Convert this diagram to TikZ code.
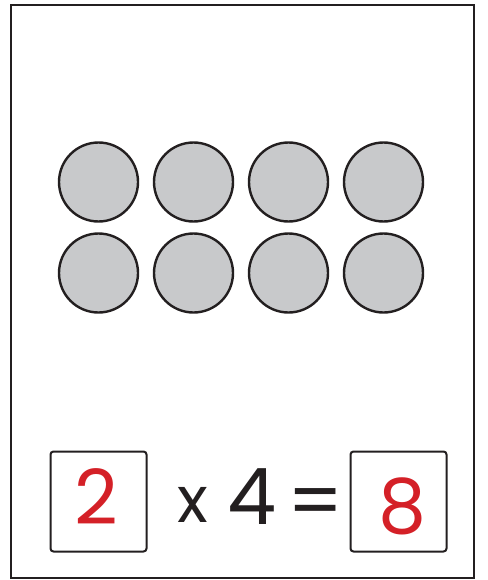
\documentclass[tikz,border=0pt]{standalone}
\usepackage{fontspec}
\setmainfont{Poppins}
\definecolor{dotgray}{HTML}{C8C9CB}
\definecolor{penred}{HTML}{D42027}
\definecolor{ink}{HTML}{231F20}
\begin{document}
\begin{tikzpicture}[x=1pt,y=-1pt,
  dot/.style={circle,draw=ink,line width=2.4pt,fill=dotgray,minimum size=79pt,inner sep=0pt},
  answerbox/.style={draw=ink,line width=2pt,rounded corners=3pt,minimum width=96pt,minimum height=100pt,inner sep=0pt},
  red digit/.style={text=penred,font=\fontsize{76}{76}\selectfont},
  sym/.style={text=ink,font=\fontsize{78}{78}\selectfont}]
\useasboundingbox (0,0) rectangle (487,580);
\node[draw=ink,line width=2pt,minimum width=463pt,minimum height=572pt,inner sep=0pt] (frame) at (242.5,291.5) {};
\foreach \c [count=\i] in {98.5,193.5,288.5,383.5}{
  \node[dot] (t\i) at (\c,182) {};
  \node[dot] (b\i) at (\c,273) {};
}
\node[answerbox] (lbox) at (98.5,501.5) {};
\node[answerbox] (rbox) at (398.5,501.5) {};
\node[red digit] (two) at (96,497) {2};
\node[red digit] (eight) at (402,506) {8};
\node[sym,font=\fontsize{64}{64}\selectfont] (times) at (192.5,505) {x};
\node[sym] (four) at (252.5,497) {4};
\node[sym] (eq) at (316,509) {=};
\end{tikzpicture}
\end{document}
